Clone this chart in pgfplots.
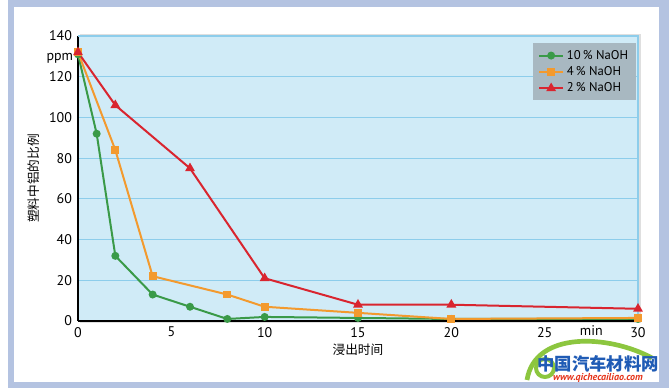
\documentclass[border=0pt]{standalone}
\usepackage{pgfplots}
\pgfplotsset{compat=1.18}
\usepackage{fontspec}
\setmainfont{PT Sans}
\newfontfamily\cjk{Noto Sans CJK SC}
\definecolor{framec}{HTML}{B4C3E1}
\definecolor{bgblue}{HTML}{D0EBF7}
\definecolor{gridc}{HTML}{8DCDEB}
\definecolor{legc}{HTML}{A8B8C1}
\definecolor{cgreen}{HTML}{3A9A48}
\definecolor{corange}{HTML}{F39A2E}
\definecolor{cred}{HTML}{D9252F}
\definecolor{wmblue}{HTML}{1F5BB5}
\definecolor{wmred}{HTML}{E5331A}
\definecolor{wmgreen}{HTML}{8CC63F}
\begin{document}
\begin{tikzpicture}[x=0.75pt,y=0.75pt]
\useasboundingbox (0,0) rectangle (669,390);
\fill[framec] (8,2) rectangle (669,390);
\fill[white] (14,8) rectangle (659,383);
% drop shadow of the plot area
\fill[gray!25] (80,67) rectangle (641,356);
\begin{axis}[
  at={(58.5pt,51.75pt)}, anchor=south west,
  scale only axis, width=420pt, height=213.75pt,
  xmin=0, xmax=30, ymin=0, ymax=140,
  axis lines*=left,
  axis line style={black, line width=2.2pt},
  axis background/.style={fill=bgblue},
  xtick={0,5,10,15,20,25,30},
  ytick={0,20,40,60,80,100,120,140},
  ymajorgrids, grid style={gridc, line width=0.8pt},
  major tick length=0pt,
  /pgf/number format/assume math mode=true,
  tick label style={font=\fontsize{10.5pt}{12pt}\selectfont},
  yticklabel style={xshift=-1pt},
  xticklabel style={yshift=-1pt},
  xlabel={\cjk 浸出时间}, xlabel style={font=\fontsize{9.5pt}{11pt}\selectfont, yshift=2pt},
  ylabel={\cjk 塑料中铝的比例}, ylabel style={font=\fontsize{9.5pt}{11pt}\selectfont, yshift=0pt},
  legend style={at={(0.997,0.975)}, anchor=north east, fill=legc, draw=none,
    font=\fontsize{9.5pt}{11pt}\selectfont, row sep=0pt, inner xsep=4pt, inner ysep=3pt},
  legend cell align=left,
  legend image code/.code={\draw[mark repeat=2,mark phase=2] plot coordinates {(0cm,0cm) (0.32cm,0cm) (0.64cm,0cm)};},
  every axis plot/.append style={line width=1.5pt},
  clip=false,
]
\addplot[cgreen, mark=*, mark size=2.2pt] coordinates {
  (0,131) (1,92) (2,32) (4,13) (6,7) (8,1) (10,2) (15,1.5) (20,1) (30,1)};
\addlegendentry{10\,\% NaOH}
\addplot[corange, mark=square*, mark size=2.2pt] coordinates {
  (0,132) (2,84) (4,22) (8,13) (10,7) (15,4) (20,1) (30,1.5)};
\addlegendentry{4\,\% NaOH}
\addplot[cred, mark=triangle*, mark size=2.8pt] coordinates {
  (0,132) (2,106) (6,75) (10,21) (15,8) (20,8) (30,6)};
\addlegendentry{2\,\% NaOH}
\draw[gridc, line width=1pt] (rel axis cs:0,1) -- (rel axis cs:1,1) -- (rel axis cs:1,0);
\node[anchor=east, font=\fontsize{10.5pt}{12pt}\selectfont, inner sep=0pt] at (axis cs:-0.25,129) {ppm};
\node[font=\fontsize{10.5pt}{12pt}\selectfont] at (axis cs:27.5,-4.6) {min};
\end{axis}
% watermark
\draw[wmgreen, line width=3.5pt] (527,10) .. controls (535,60) and (610,55) .. (652,32);
\draw[wmgreen, line width=3pt] (545,22) circle (9);
\node[font=\cjk\bfseries\fontsize{13pt}{14pt}\selectfont, text=wmblue] at (598,26) {中国汽车材料网};
\node[font=\bfseries\itshape\fontsize{7.5pt}{8pt}\selectfont, text=wmred] at (598,12) {www.qichecailiao.com};
\end{tikzpicture}
\end{document}
